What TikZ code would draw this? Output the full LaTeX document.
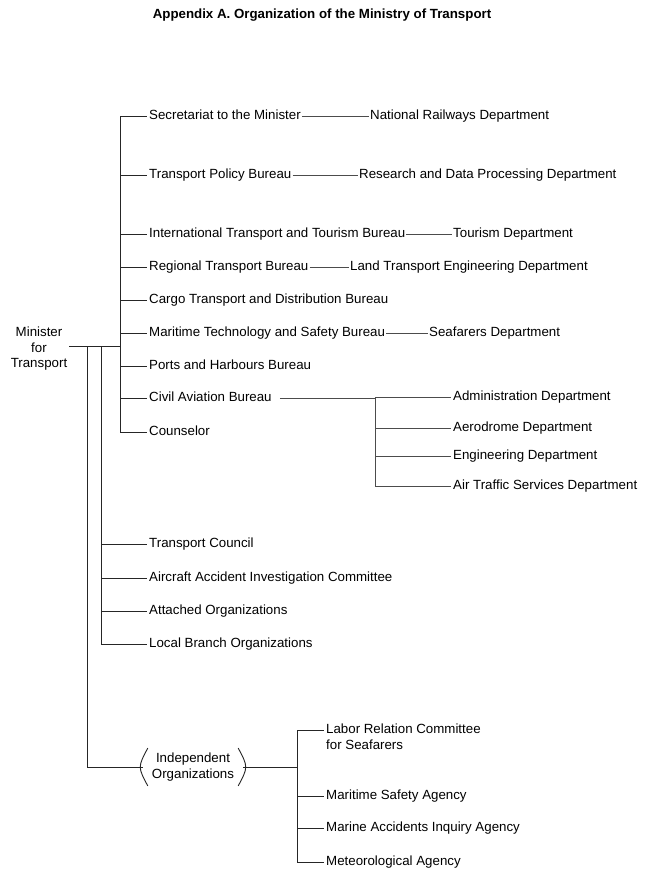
\documentclass[tikz,border=0pt]{standalone}
\usepackage{fontspec}
\setmainfont{Liberation Sans}
\tikzset{
  unit/.style={font=\fontsize{13.3}{15.5}\selectfont,inner xsep=2pt,inner ysep=0pt,
               anchor=west,text height=9.5pt,text depth=2.8pt},
  stack/.style={font=\fontsize{13.3}{15.5}\selectfont,inner sep=0pt,align=center},
  tree/.style={line width=.9pt,black!85},
  link/.style={line width=.7pt,black!70},
}

\begin{document}
\begin{tikzpicture}[x=1pt,y=-1pt]
  \fill[white] (0,0) rectangle (650,875);
  \useasboundingbox (0,0) rectangle (650,875);

  % title
  \node[font=\fontsize{13.3}{15.5}\selectfont\bfseries] (ttl) at (322,15)
    {Appendix A. Organization of the Ministry of Transport};

  % minister and the three trunks
  \node[stack] (min) at (39,349) {Minister\\for\\Transport};
  \coordinate (hub1) at (120,346);
  \coordinate (hub2) at (101,346);
  \coordinate (hub3) at (87,346);
  \draw[tree] (min.east |- hub1) ++(2,0) -- (hub1);

  % internal bureaus
  \foreach \n/\y/\t in {sec/116/Secretariat to the Minister,
                        pol/175/Transport Policy Bureau,
                        itt/234/International Transport and Tourism Bureau,
                        rtb/267/Regional Transport Bureau,
                        cgo/300/Cargo Transport and Distribution Bureau,
                        mts/333/Maritime Technology and Safety Bureau,
                        phb/366/Ports and Harbours Bureau,
                        cab/398/Civil Aviation Bureau,
                        cou/432/Counselor}{
    \node[unit] (\n) at (147,\y) {\t};
    \draw[tree] (hub1 |- \n.west) -- (\n.west);
  }
  \draw[tree] (hub1 |- sec.west) -- (hub1 |- cou.west);

  % departments of the bureaus
  \foreach \a/\b/\x/\y/\t in {sec/nrd/368/116/National Railways Department,
                              pol/rdp/357/175/Research and Data Processing Department,
                              itt/tou/451/234/Tourism Department,
                              rtb/lte/348/267/Land Transport Engineering Department,
                              mts/sfd/427/333/Seafarers Department}{
    \node[unit] (\b) at (\x,\y) {\t};
    \draw[link] ([xshift=-1pt]\a.east) -- ([xshift=1pt]\b.west);
  }

  % civil aviation departments
  \coordinate (cj) at (375,398);
  \foreach \n/\y/\t in {adm/397/Administration Department,
                        aer/428/Aerodrome Department,
                        eng/456/Engineering Department,
                        atc/486/Air Traffic Services Department}{
    \node[unit] (\n) at (451,\y) {\t};
    \draw[link] (cj |- \n.west) -- (\n.west);
  }
  \draw[link] ([xshift=6pt]cab.east) -- (cj);
  \draw[link] (cj) -- (cj |- atc.west);

  % councils and branch organizations
  \foreach \n/\y/\t in {tco/544/Transport Council,
                        aai/578/Aircraft Accident Investigation Committee,
                        att/611/Attached Organizations,
                        lbo/644/Local Branch Organizations}{
    \node[unit] (\n) at (147,\y) {\t};
    \draw[tree] (hub2 |- \n.west) -- (\n.west);
  }
  \draw[tree] (hub2) -- (hub2 |- lbo.west);

  % independent organizations
  \node[stack,font=\fontsize{13.3}{16}\selectfont,inner xsep=9pt,inner ysep=4.5pt]
    (ind) at (193,767) {Independent\\Organizations};
  \draw[tree] (hub3) |- (ind.west);
  \draw[tree] ([xshift=5pt]ind.north west) .. controls ([xshift=-5pt]ind.west)
    .. ([xshift=5pt]ind.south west);
  \draw[tree] ([xshift=-5pt]ind.north east) .. controls ([xshift=5pt]ind.east)
    .. ([xshift=-5pt]ind.south east);
  \coordinate (ij) at (297,767);
  \draw[tree] (ind.east) -- (ij);

  \node[stack,align=left,anchor=north west,inner xsep=2pt] (lab) at (324,724)
    {Labor Relation Committee\\for Seafarers};
  \coordinate (labj) at (297,730);
  \draw[tree] (labj) -- (labj -| lab.west);
  \foreach \n/\y/\t in {msa/796/Maritime Safety Agency,
                        mai/828/Marine Accidents Inquiry Agency,
                        met/862/Meteorological Agency}{
    \node[unit] (\n) at (324,\y) {\t};
    \draw[tree] (ij |- \n.west) -- (\n.west);
  }
  \draw[tree] (labj) -- (ij |- met.west);
\end{tikzpicture}
\end{document}
